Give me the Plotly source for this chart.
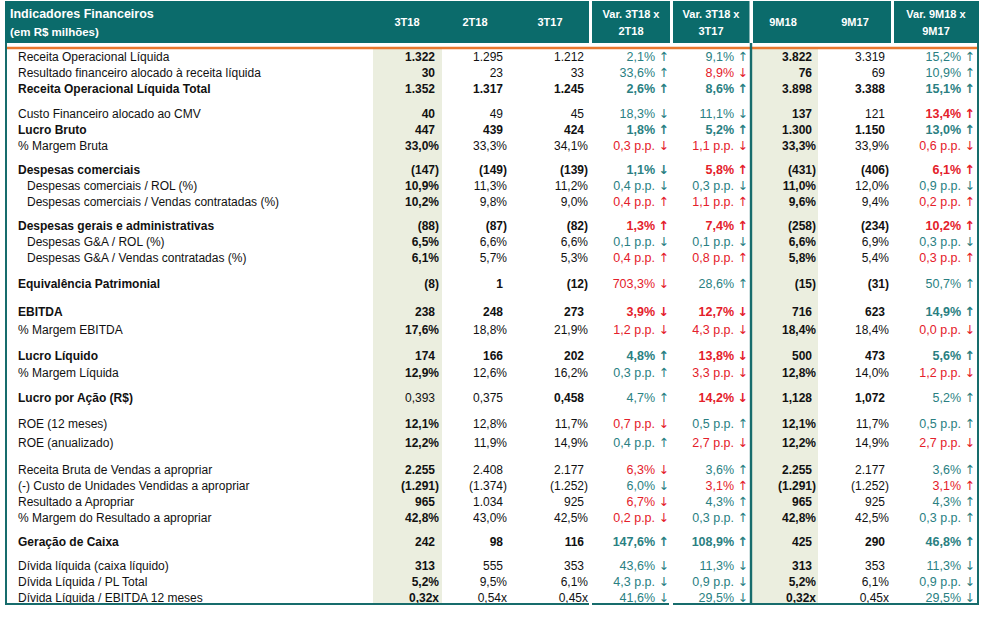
import plotly.graph_objects as go

# ---------------- data ----------------
labels = [
    "Receita Operacional Líquida",
    "Resultado financeiro alocado à receita líquida",
    "Receita Operacional Líquida Total",
    "Custo Financeiro alocado ao CMV",
    "Lucro Bruto",
    "% Margem Bruta",
    "Despesas comerciais",
    "Despesas comerciais / ROL (%)",
    "Despesas comerciais / Vendas contratadas (%)",
    "Despesas gerais e administrativas",
    "Despesas G&A / ROL (%)",
    "Despesas G&A / Vendas contratadas (%)",
    "Equivalência Patrimonial",
    "EBITDA",
    "% Margem EBITDA",
    "Lucro Líquido",
    "% Margem Líquida",
    "Lucro por Ação (R$)",
    "ROE (12 meses)",
    "ROE (anualizado)",
    "Receita Bruta de Vendas a apropriar",
    "(-) Custo de Unidades Vendidas a apropriar",
    "Resultado a Apropriar",
    "% Margem do Resultado a apropriar",
    "Geração de Caixa",
    "Dívida líquida (caixa líquido)",
    "Dívida Líquida / PL Total",
    "Dívida Líquida / EBITDA 12 meses",
]
section_sizes = [3, 3, 3, 3, 1, 2, 2, 1, 2, 4, 1, 3]
bold_rows = [2, 4, 6, 9, 12, 13, 15, 17, 24]
indent_rows = [7, 8, 10, 11]

v_3T18 = ["1.322", "30", "1.352", "40", "447", "33,0%", "(147)", "10,9%", "10,2%", "(88)", "6,5%", "6,1%",
          "(8)", "238", "17,6%", "174", "12,9%", "0,393", "12,1%", "12,2%", "2.255", "(1.291)", "965", "42,8%",
          "242", "313", "5,2%", "0,32x"]
v_2T18 = ["1.295", "23", "1.317", "49", "439", "33,3%", "(149)", "11,3%", "9,8%", "(87)", "6,6%", "5,7%",
          "1", "248", "18,8%", "166", "12,6%", "0,375", "12,8%", "11,9%", "2.408", "(1.374)", "1.034", "43,0%",
          "98", "555", "9,5%", "0,54x"]
v_3T17 = ["1.212", "33", "1.245", "45", "424", "34,1%", "(139)", "11,2%", "9,0%", "(82)", "6,6%", "5,3%",
          "(12)", "273", "21,9%", "202", "16,2%", "0,458", "11,7%", "14,9%", "2.177", "(1.252)", "925", "42,5%",
          "116", "353", "6,1%", "0,45x"]
v_9M18 = ["3.822", "76", "3.898", "137", "1.300", "33,3%", "(431)", "11,0%", "9,6%", "(258)", "6,6%", "5,8%",
          "(15)", "716", "18,4%", "500", "12,8%", "1,128", "12,1%", "12,2%", "2.255", "(1.291)", "965", "42,8%",
          "425", "313", "5,2%", "0,32x"]
v_9M17 = ["3.319", "69", "3.388", "121", "1.150", "33,9%", "(406)", "12,0%", "9,4%", "(234)", "6,9%", "5,4%",
          "(31)", "623", "18,4%", "473", "14,0%", "1,072", "11,7%", "14,9%", "2.177", "(1.252)", "925", "42,5%",
          "290", "353", "6,1%", "0,45x"]

var_3T18_2T18 = ["2,1%", "33,6%", "2,6%", "18,3%", "1,8%", "0,3 p.p.", "1,1%", "0,4 p.p.", "0,4 p.p.", "1,3%",
                 "0,1 p.p.", "0,4 p.p.", "703,3%", "3,9%", "1,2 p.p.", "4,8%", "0,3 p.p.", "4,7%", "0,7 p.p.",
                 "0,4 p.p.", "6,3%", "6,0%", "6,7%", "0,2 p.p.", "147,6%", "43,6%", "4,3 p.p.", "41,6%"]
dir_3T18_2T18 = list("UUUDUDDDUUDUDDDUUUDUDDDDUDDD")
tone_3T18_2T18 = list("gggggrggrrgrrrrgggrgrgrrgggg")

var_3T18_3T17 = ["9,1%", "8,9%", "8,6%", "11,1%", "5,2%", "1,1 p.p.", "5,8%", "0,3 p.p.", "1,1 p.p.", "7,4%",
                 "0,1 p.p.", "0,8 p.p.", "28,6%", "12,7%", "4,3 p.p.", "13,8%", "3,3 p.p.", "14,2%", "0,5 p.p.",
                 "2,7 p.p.", "3,6%", "3,1%", "4,3%", "0,3 p.p.", "108,9%", "11,3%", "0,9 p.p.", "29,5%"]
dir_3T18_3T17 = list("UDUDUDUDUUDUUDDDDDUDUUUUUDDD")
tone_3T18_3T17 = list("grgggrrgrrgrgrrrrrgrgrgggggg")

var_9M18_9M17 = ["15,2%", "10,9%", "15,1%", "13,4%", "13,0%", "0,6 p.p.", "6,1%", "0,9 p.p.", "0,2 p.p.", "10,2%",
                 "0,3 p.p.", "0,3 p.p.", "50,7%", "14,9%", "0,0 p.p.", "5,6%", "1,2 p.p.", "5,2%", "0,5 p.p.",
                 "2,7 p.p.", "3,6%", "3,1%", "4,3%", "0,3 p.p.", "46,8%", "11,3%", "0,9 p.p.", "29,5%"]
dir_9M18_9M17 = list("UUUUUDUDUUDUUUDUDUUDUUUUUDDD")
tone_9M18_9M17 = list("gggrgrrgrrgrggrgrggrgrgggggg")

var_bold_rows = {
    "v1": [2, 4, 6, 9, 13, 15, 24],
    "v2": [2, 4, 6, 9, 13, 15, 17, 24],
    "v3": [2, 3, 4, 6, 9, 13, 15, 24],
}

# ---------------- layout constants ----------------
W, H = 983, 622
FONT = "Liberation Sans, Arial, sans-serif"
BODY_SIZE = 12
TEAL_HDR = "#0B6B6B"
TEAL_LINE = "#176C6C"
TEAL_TXT = "#2A7F82"
RED_TXT = "#E4202A"
ORANGE = "#E8772E"
BEIGE = "#EBEEDF"
BLACK = "#111111"

section_pitch = [16, 16, 16, 16, 16, 18, 17, 16, 19, 16, 16, 16]
section_gap = [0, 25, 24, 24, 26, 28, 26, 25, 26, 27, 24, 24]
first_row_y = 58

row_y = []
y = first_row_y
for s, n in enumerate(section_sizes):
    if s > 0:
        y = row_y[-1] + section_gap[s]
    for k in range(n):
        row_y.append(y + k * section_pitch[s])

col_right = {"3T18": 439, "2T18": 507, "3T17": 588, "v1": 669, "v2": 748,
             "9M18": 816, "9M17": 889, "v3": 975}
header_groups = [(5, 589), (592, 670), (673, 749.5), (753, 891), (894, 979)]

fig = go.Figure()

shapes = []
shapes.append(dict(type="rect", x0=373, x1=442, y0=49, y1=604, fillcolor=BEIGE, line_width=0, layer="below"))
shapes.append(dict(type="rect", x0=751, x1=818, y0=49, y1=604, fillcolor=BEIGE, line_width=0, layer="below"))
for x0, x1 in header_groups:
    shapes.append(dict(type="rect", x0=x0, x1=x1, y0=1, y1=43, fillcolor=TEAL_HDR, line_width=0, layer="below"))
shapes.append(dict(type="line", x0=7, x1=979, y0=48, y1=48, line=dict(color=ORANGE, width=2.6)))
shapes.append(dict(type="line", x0=6, x1=6, y0=43, y1=605, line=dict(color=TEAL_LINE, width=2)))
shapes.append(dict(type="line", x0=751, x1=751, y0=43, y1=605, line=dict(color=TEAL_LINE, width=2.4)))
shapes.append(dict(type="line", x0=978, x1=978, y0=43, y1=605, line=dict(color=TEAL_LINE, width=2)))
for x0, x1 in [(5, 589), (592, 669), (673, 979)]:
    shapes.append(dict(type="line", x0=x0, x1=x1, y0=604, y1=604, line=dict(color=TEAL_LINE, width=2)))


def pad(v):
    if v and v[-1].isdigit():
        return v + '<span style="color:rgba(0,0,0,0)">)</span>'
    return v


def add_text(x, ys, texts, colors, pos, size=BODY_SIZE):
    fig.add_trace(go.Scatter(
        x=x, y=ys, mode="text", text=texts, textposition=pos,
        textfont=dict(family=FONT, size=size, color=colors),
        hoverinfo="skip", showlegend=False, cliponaxis=False))


n = len(labels)
lab_x = [27 if i in indent_rows else 18 for i in range(n)]
lab_t = [f"<b>{t}</b>" if i in bold_rows else t for i, t in enumerate(labels)]
add_text(lab_x, row_y, lab_t, [BLACK] * n, "middle right")

for key, vals, always_bold in [("3T18", v_3T18, True), ("2T18", v_2T18, False), ("3T17", v_3T17, False),
                               ("9M18", v_9M18, True), ("9M17", v_9M17, False)]:
    txt = []
    for i, v in enumerate(vals):
        s = pad(v)
        bold = always_bold or (i in bold_rows)
        if key in ("3T18", "2T18") and i == 17:
            bold = False
        txt.append(f"<b>{s}</b>" if bold else s)
    add_text([col_right[key]] * n, row_y, txt, [BLACK] * n, "middle left")

arrow = {"U": "\u2191", "D": "\u2193"}
tone_color = {"g": TEAL_TXT, "r": RED_TXT}
for key, vals, dirs, tones in [("v1", var_3T18_2T18, dir_3T18_2T18, tone_3T18_2T18),
                               ("v2", var_3T18_3T17, dir_3T18_3T17, tone_3T18_3T17),
                               ("v3", var_9M18_9M17, dir_9M18_9M17, tone_9M18_9M17)]:
    txt, cols = [], []
    for i, v in enumerate(vals):
        s = f'{v} <span style="font-family:DejaVu Sans">{arrow[dirs[i]]}</span>'
        txt.append(f"<b>{s}</b>" if i in var_bold_rows[key] else s)
        cols.append(tone_color[tones[i]])
    add_text([col_right[key]] * n, row_y, txt, cols, "middle left", size=12.5)

add_text([10], [15], ["<b>Indicadores Financeiros</b>"], ["white"], "middle right", size=12.5)
add_text([10], [33], ["<b>(em R$ milhões)</b>"], ["white"], "middle right", size=11.5)
single_hdr = [("3T18", 407), ("2T18", 475), ("3T17", 550), ("9M18", 783), ("9M17", 855)]
add_text([c for _, c in single_hdr], [23] * len(single_hdr), [f"<b>{t}</b>" for t, _ in single_hdr],
         ["white"] * len(single_hdr), "middle center", size=11)
double_hdr = [("Var. 3T18 x", "2T18", 631), ("Var. 3T18 x", "3T17", 711), ("Var. 9M18 x", "9M17", 936)]
add_text([c for _, _, c in double_hdr], [15] * 3, [f"<b>{a}</b>" for a, _, _ in double_hdr],
         ["white"] * 3, "middle center", size=11)
add_text([c for _, _, c in double_hdr], [32] * 3, [f"<b>{b}</b>" for _, b, _ in double_hdr],
         ["white"] * 3, "middle center", size=11)

fig.update_layout(
    width=W, height=H, margin=dict(l=0, r=0, t=0, b=0),
    paper_bgcolor="white", plot_bgcolor="white",
    xaxis=dict(range=[0, W], visible=False, fixedrange=True),
    yaxis=dict(range=[H, 0], visible=False, fixedrange=True),
    shapes=shapes,
)
fig.write_html("out.html", config={"displayModeBar": False},
               post_script="document.body.style.margin='0';document.body.style.overflow='hidden';")
